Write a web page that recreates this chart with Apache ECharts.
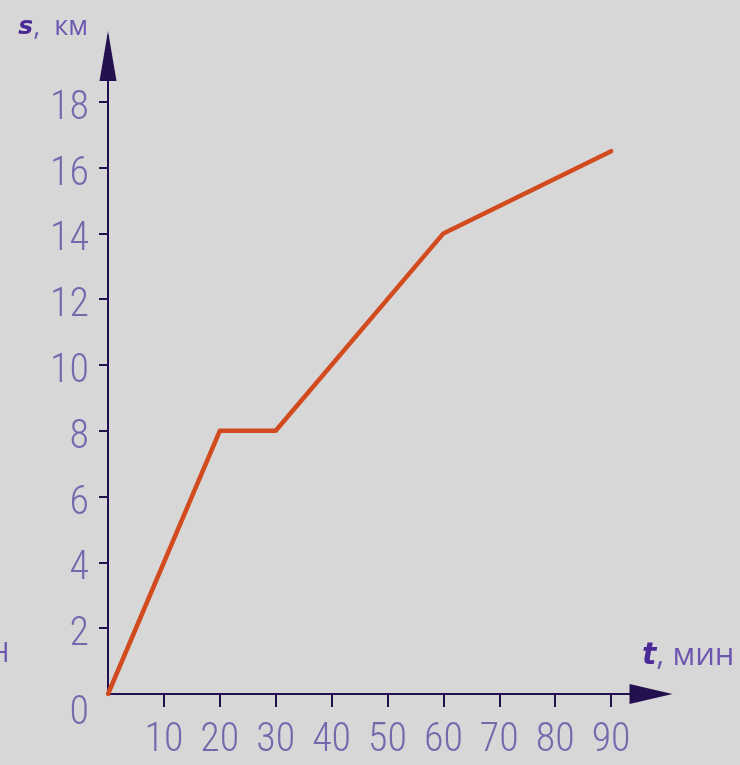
<!DOCTYPE html>
<html>
<head>
<meta charset="utf-8">
<script src="https://cdn.jsdelivr.net/npm/echarts@6/dist/echarts.min.js"></script>
<style>
html,body{margin:0;padding:0;background:#d7d7d7;}
#chart{width:740px;height:765px;}
</style>
</head>
<body>
<div id="chart"></div>
<script>
// Data
const timeMin = [0, 20, 30, 60, 90];
const distanceKm = [0, 8, 8, 14, 16.5];
const xTickValues = [10, 20, 30, 40, 50, 60, 70, 80, 90];
const yTickValues = [2, 4, 6, 8, 10, 12, 14, 16, 18];
const yLabelValues = [0, 2, 4, 6, 8, 10, 12, 14, 16, 18];
const xTitleVar = 't';
const xTitleUnit = ', мин';
const yTitleVar = 's';
const yTitleUnit = ',  км';
const sideFragment = 'Н';

const axisColor = '#22104f';
const labelColor = '#7767ad';
const numFont = "'Roboto Condensed', 'Roboto', sans-serif";

const chart = echarts.init(document.getElementById('chart'));
chart.setOption({
  backgroundColor: '#d7d7d7',
  animation: false,
  grid: { left: 108, right: 73, top: 36, bottom: 71, containLabel: false },
  xAxis: {
    type: 'value', min: 0, max: 100, interval: 10,
    name: '{v|' + xTitleVar + '}{u|' + xTitleUnit + '}',
    nameLocation: 'end', nameGap: -25,
    nameTextStyle: {
      align: 'left', verticalAlign: 'bottom', padding: [0, 0, 22, 0],
      rich: {
        v: { fontFamily: "'DejaVu Sans', sans-serif", fontStyle: 'italic', fontWeight: 'bold', fontSize: 30, color: '#4b2a96' },
        u: { fontFamily: "'Open Sans', sans-serif", fontSize: 31, color: '#6c56b0' }
      }
    },
    axisLine: {
      show: true, lineStyle: { color: axisColor, width: 2 },
      symbol: ['none', 'triangle'], symbolSize: [20, 43], symbolOffset: [0, -16]
    },
    axisTick: { show: true, inside: false, length: 13, customValues: xTickValues, lineStyle: { color: axisColor, width: 2 } },
    axisLabel: {
      customValues: xTickValues, margin: 27,
      fontFamily: numFont, fontWeight: 300, fontSize: 40, color: labelColor
    },
    splitLine: { show: false }
  },
  yAxis: {
    type: 'value', min: 0, max: 20, interval: 2,
    name: '{v|' + yTitleVar + '}{u|' + yTitleUnit + '}',
    nameLocation: 'end', nameGap: 9,
    nameTextStyle: {
      align: 'right', verticalAlign: 'middle', padding: [0, 20, 0, 0],
      rich: {
        v: { fontFamily: "'DejaVu Sans', sans-serif", fontStyle: 'italic', fontWeight: 'bold', fontSize: 25, color: '#4b2a96' },
        u: { fontFamily: "'Open Sans', sans-serif", fontSize: 27, color: '#6c56b0' }
      }
    },
    axisLine: {
      show: true, lineStyle: { color: axisColor, width: 2 },
      symbol: ['none', 'triangle'], symbolSize: [17, 50], symbolOffset: [0, -20]
    },
    axisTick: { show: true, inside: false, length: 9, customValues: yTickValues, lineStyle: { color: axisColor, width: 2 } },
    axisLabel: {
      customValues: yLabelValues, margin: 19,
      fontFamily: numFont, fontWeight: 300, fontSize: 40, color: labelColor,
      formatter: function (v) { return v === 0 ? '{z|0}' : '{n|' + v + '}'; },
      rich: {
        z: { fontFamily: numFont, fontWeight: 300, fontSize: 40, color: labelColor, padding: [40, 0, 0, 0] },
        n: { fontFamily: numFont, fontWeight: 300, fontSize: 40, color: labelColor, padding: [14, 0, 0, 0] }
      }
    },
    splitLine: { show: false }
  },
  graphic: [{
    type: 'text', left: -11, top: 640,
    style: { text: sideFragment, fontFamily: "'Open Sans', sans-serif", fontSize: 28, fill: '#6c56b0' }
  }],
  series: [{
    type: 'line',
    data: timeMin.map((t, i) => [t, distanceKm[i]]),
    showSymbol: false, symbol: 'none',
    lineStyle: { color: '#d24b1f', width: 4.5, cap: 'round', join: 'round' }
  }]
});
</script>
</body>
</html>
